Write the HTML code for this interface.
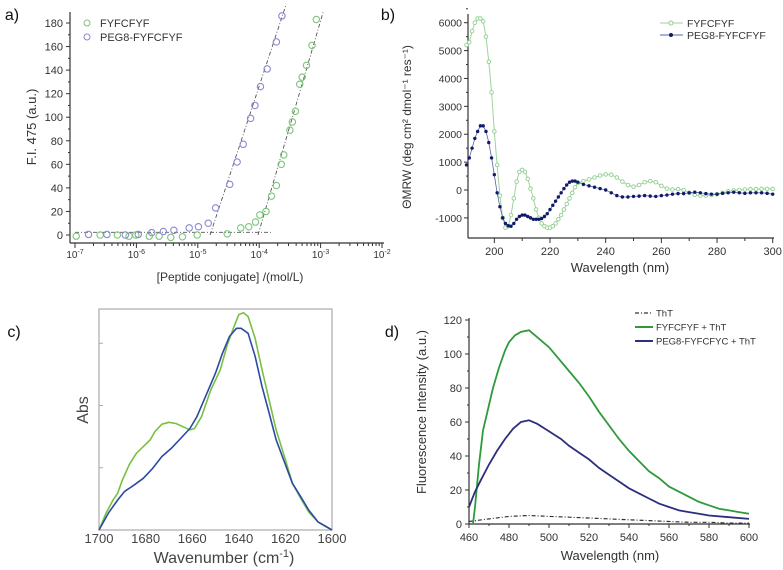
<!DOCTYPE html>
<html><head><meta charset="utf-8"><style>
html,body{margin:0;padding:0;background:#fff;}
svg{display:block;font-family:"Liberation Sans",Arial,sans-serif;}
</style></head><body>
<svg id="fig" width="783" height="570" viewBox="0 0 783 570" xmlns="http://www.w3.org/2000/svg"></svg>
<script>
// ---------- Panel a data ----------
const aGreenLogX=[-6.98,-6.59,-6.31,-6.12,-6.01,-5.79,-5.63,-5.44,-5.25,-5.01,-4.52,-4.30,-4.17,-4.06,-3.99,-3.89,-3.80,-3.72,-3.64,-3.60,-3.50,-3.46,-3.41,-3.34,-3.30,-3.23,-3.14,-3.07];
const aGreenY=[-1,0,0,-1,0,-1,-1,-2,-1.5,0,1,6,7,11,17,20,33,42,60,68,89,96,105,128,134,144,161,183];
const aPurpleLogX=[-6.78,-6.48,-6.18,-5.97,-5.75,-5.56,-5.39,-5.14,-4.99,-4.83,-4.71,-4.48,-4.36,-4.26,-4.14,-4.07,-3.98,-3.87,-3.72,-3.63];
const aPurpleY=[0.5,0.5,0,0.5,2,3,4,6,7,10,23,43,62,77,99,110,126,141,164,186];
const aFitPurple=[[-4.80,0],[-3.56,196]];
const aFitGreen=[[-4.02,0],[-2.96,189]];
const aBaseline=[[-7,2.3],[-3.81,2.3]];
const aYTicks=[0,20,40,60,80,100,120,140,160,180];
const aXDecades=[-7,-6,-5,-4,-3,-2];
// ---------- Panel b data ----------
const bGreenX=[190,191,192,193,194,195,196,197,198,199,200,201,202,203,204,205,206,207,208,209,210,211,212,213,214,215,216,217,218,219,220,221,222,223,224,225,226,227,228,229,230,232,234,236,238,240,242,244,246,248,250,252,254,256,258,260,262,264,266,268,270,272,274,276,278,280,282,284,286,288,290,292,294,296,298,300];
const bGreenY=[5200,5300,5700,6000,6150,6150,6050,5500,4600,3500,2100,900,-200,-1000,-1350,-1300,-900,-300,300,650,720,650,400,50,-300,-700,-1000,-1200,-1300,-1350,-1350,-1300,-1200,-1050,-900,-700,-500,-300,-100,100,250,320,380,450,520,560,550,450,300,180,120,180,280,320,280,150,50,20,30,0,-100,-170,-200,-200,-180,-150,-100,-50,-20,0,20,30,30,40,40,40];
const bBlueX=[190,191,192,193,194,195,196,197,198,199,200,201,202,203,204,205,206,207,208,209,210,211,212,213,214,215,216,217,218,219,220,221,222,223,224,225,226,227,228,229,230,232,234,236,238,240,242,244,246,248,250,252,254,256,258,260,262,264,266,268,270,272,274,276,278,280,282,284,286,288,290,292,294,296,298,300];
const bBlueY=[900,1150,1500,1850,2100,2300,2300,2100,1700,1150,550,-100,-600,-1000,-1200,-1280,-1300,-1200,-1050,-950,-900,-900,-950,-1000,-1050,-1050,-1050,-1020,-950,-850,-700,-550,-400,-250,-100,50,180,280,320,320,280,200,150,100,50,0,-100,-200,-250,-250,-230,-220,-200,-220,-230,-200,-180,-150,-130,-130,-100,-80,-100,-130,-150,-150,-120,-100,-80,-100,-120,-100,-100,-100,-120,-150];
const bYTicks=[-1000,0,1000,2000,3000,4000,5000,6000];
const bXTicks=[200,220,240,260,280,300];
// ---------- Panel c data ----------
const cGreenX=[1700,1697,1694,1692,1690,1687,1684,1681,1678,1676,1673,1670,1667,1664,1661,1659,1656,1652,1648,1645,1642,1640,1638,1636,1633,1630,1627,1624,1620,1617,1613,1610,1606,1600];
const cGreenY=[0,0.27,0.48,0.59,0.80,1.05,1.23,1.34,1.45,1.58,1.70,1.73,1.71,1.66,1.61,1.63,1.82,2.25,2.57,2.97,3.27,3.46,3.49,3.43,3.08,2.57,2.09,1.61,1.13,0.75,0.48,0.29,0.13,0];
const cBlueX=[1700,1696,1692,1689,1685,1681,1677,1673,1669,1665,1661,1658,1654,1650,1647,1644,1641,1639,1636,1633,1630,1627,1624,1620,1617,1613,1610,1606,1600];
const cBlueY=[0,0.27,0.48,0.62,0.72,0.83,0.99,1.18,1.31,1.47,1.63,1.82,2.17,2.52,2.84,3.11,3.24,3.24,3.16,2.79,2.30,1.88,1.45,1.05,0.75,0.51,0.32,0.13,0];
const cXTicks=[1700,1680,1660,1640,1620,1600];
const cYTicks=[1,2,3];
// ---------- Panel d data ----------
const dGreenX=[462,463,465,467,470,472,475,478,480,483,486,490,493,496,500,505,510,515,520,525,530,535,540,545,550,555,560,565,570,575,580,585,590,595,600];
const dGreenY=[0,10,35,55,70,80,92,102,107,111,113,114,111,108,104,97,90,83,75,66,58,50,43,37,31,27,22,19,16,13,11,9,8,7,6];
const dBlueX=[460,463,466,470,474,478,482,486,490,494,498,502,506,510,515,520,525,530,535,540,545,550,555,560,565,570,575,580,590,600];
const dBlueY=[10,19,26,35,43,50,56,60,61,59,56,53,50,46,42,38,33,29,25,21,18,15,12,10,8,7,6,5,4,3];
const dThtX=[460,470,480,490,500,510,520,530,540,550,560,570,580,590,600];
const dThtY=[1.5,3,4.5,5,4.5,4,3.5,3,2.5,2,1.5,1,1,0.5,0.5];
const dXTicks=[460,480,500,520,540,560,580,600];
const dYTicks=[0,20,40,60,80,100,120];

const NS="http://www.w3.org/2000/svg";
const svg=document.getElementById('fig');
function mk(tag,attrs,parent,txt){const e=document.createElementNS(NS,tag);for(const k in attrs)e.setAttribute(k,attrs[k]);if(txt!==undefined)e.textContent=txt;(parent||svg).appendChild(e);return e;}
function grp(name){const g=mk('g',{});


return g;}
function lin(d0,d1,r0,r1){return v=>r0+(v-d0)*(r1-r0)/(d1-d0);}
function pathD(xs,ys,sx,sy){return xs.map((x,i)=>(i?'L':'M')+sx(x).toFixed(1)+','+sy(ys[i]).toFixed(1)).join('');}
function label(g,x,y,t,size,anchor,name,extra){const e=mk('text',Object.assign({x:x,y:y,'font-size':size,'text-anchor':anchor||'middle',fill:'#333'},extra||{}),g,t);


return e;}

// ===== Panel a =====
(function(){
const g=grp('panel-a');
const sx=lin(-7,-2,75,382), sy=lin(0,180,235,23);
label(g,12,20,'a)',16,'middle','panel-a-label',{fill:'#111'});
mk('line',{x1:70,y1:12,x2:70,y2:243,stroke:'#333','stroke-width':1.2},g);
mk('line',{x1:70,y1:243,x2:384,y2:243,stroke:'#333','stroke-width':1.2},g);
aYTicks.forEach(v=>{mk('line',{x1:66,x2:70,y1:sy(v),y2:sy(v),stroke:'#333'},g);
const t=label(g,63,sy(v)+4,String(v),11,'end','y-tick-label-a');});
aYTicks.forEach(v=>{if(v<180)mk('line',{x1:68,x2:70,y1:sy(v+10),y2:sy(v+10),stroke:'#333'},g);});
aXDecades.forEach(d=>{mk('line',{x1:sx(d),x2:sx(d),y1:243,y2:248,stroke:'#333'},g);
const t=label(g,sx(d),258,'10',10,'middle','x-tick-label-a');
const s=mk('tspan',{dy:-4,'font-size':7},t,String(d));
if(d<-2)for(let k=2;k<10;k++){const x=sx(d+Math.log10(k));mk('line',{x1:x,x2:x,y1:243,y2:246,stroke:'#333'},g);}});
label(g,230,281,'[Peptide conjugate] /(mol/L)',12,'middle','x-axis-title-a');
label(g,0,0,'F.I. 475 (a.u.)',13,'middle','y-axis-title-a',{transform:'translate(36,127) rotate(-90)'});
const dot={stroke:'#555','stroke-width':0.9,'stroke-dasharray':'4,2,1,2',fill:'none'};
[aFitPurple,aFitGreen,aBaseline].forEach((L,i)=>{const l=mk('line',Object.assign({x1:sx(L[0][0]),y1:sy(L[0][1]),x2:sx(L[1][0]),y2:sy(L[1][1])},dot),g);

});
aGreenLogX.forEach((x,i)=>{const c=mk('circle',{cx:sx(x),cy:sy(aGreenY[i]),r:3.2,fill:'none',stroke:'#7cc47c','stroke-width':1.1},g);

});
aPurpleLogX.forEach((x,i)=>{const c=mk('circle',{cx:sx(x),cy:sy(aPurpleY[i]),r:3.2,fill:'none',stroke:'#8a8ad0','stroke-width':1.1},g);

});
mk('circle',{cx:87,cy:23,r:3,fill:'none',stroke:'#7cc47c'},g);
mk('circle',{cx:87,cy:37,r:3,fill:'none',stroke:'#8a8ad0'},g);
label(g,100,27,'FYFCFYF',11,'start','legend-entry-fyfcfyf');
label(g,100,41,'PEG8-FYFCFYF',11,'start','legend-entry-peg8');
})();

// ===== Panel b =====
(function(){
const g=grp('panel-b');
const sx=lin(190,300,466.5,772.7), sy=lin(0,6000,190,22.7);
label(g,388,20,'b)',16,'middle','panel-b-label',{fill:'#111'});
mk('line',{x1:468,y1:14,x2:468,y2:238,stroke:'#333','stroke-width':1.2},g);
mk('line',{x1:468,y1:238,x2:774,y2:238,stroke:'#333','stroke-width':1.2},g);
bYTicks.forEach(v=>{mk('line',{x1:464,x2:468,y1:sy(v),y2:sy(v),stroke:'#333'},g);
label(g,462,sy(v)+4,String(v),10.5,'end','y-tick-label-b');
mk('line',{x1:466,x2:468,y1:sy(v+500),y2:sy(v+500),stroke:'#333'},g);});
bXTicks.forEach(v=>{mk('line',{x1:sx(v),x2:sx(v),y1:238,y2:243,stroke:'#333'},g);
label(g,sx(v),255,String(v),11,'middle','x-tick-label-b');
if(v<300)mk('line',{x1:sx(v+10),x2:sx(v+10),y1:238,y2:241,stroke:'#333'},g);});
label(g,620,272,'Wavelength (nm)',13,'middle','x-axis-title-b');
label(g,0,0,'ΘMRW (deg cm² dmol⁻¹ res⁻¹)',12,'middle','y-axis-title-b',{transform:'translate(411,127) rotate(-90)'});
const gl=mk('path',{d:pathD(bGreenX,bGreenY,sx,sy),fill:'none',stroke:'#9ed39e','stroke-width':1},g);


bGreenX.forEach((x,i)=>{mk('circle',{cx:sx(x),cy:sy(bGreenY[i]),r:1.8,fill:'#fff',stroke:'#8fcf8f','stroke-width':0.9},g);});
const bl=mk('path',{d:pathD(bBlueX,bBlueY,sx,sy),fill:'none',stroke:'#5a60a8','stroke-width':0.8},g);


bBlueX.forEach((x,i)=>{mk('circle',{cx:sx(x),cy:sy(bBlueY[i]),r:1.7,fill:'#101a6a'},g);});
mk('line',{x1:660,x2:683,y1:23,y2:23,stroke:'#9ed39e'},g);
mk('circle',{cx:671,cy:23,r:2,fill:'#fff',stroke:'#8fcf8f'},g);
mk('line',{x1:660,x2:683,y1:35,y2:35,stroke:'#5a60a8'},g);
mk('circle',{cx:671,cy:35,r:2,fill:'#101a6a'},g);
label(g,687,27,'FYFCFYF',10.5,'start','legend-entry-fyfcfyf-b');
label(g,687,39,'PEG8-FYFCFYF',10.5,'start','legend-entry-peg8-b');
})();

// ===== Panel c =====
(function(){
const g=grp('panel-c');
const sx=lin(1700,1600,99,332), sy=lin(0,3.55,530,309);
label(g,14,337,'c)',16,'middle','panel-c-label',{fill:'#111'});
mk('rect',{x:99,y:309,width:233,height:221,fill:'none',stroke:'#aaa','stroke-width':1.2},g);
cYTicks.forEach(v=>{mk('line',{x1:99,x2:103,y1:sy(v),y2:sy(v),stroke:'#aaa'},g);});
cXTicks.forEach(v=>{label(g,sx(v),543,String(v),13,'middle','x-tick-label-c',{fill:'#444'});});
const t=label(g,224,563,'Wavenumber (cm',16,'middle','x-axis-title-c',{fill:'#444'});
mk('tspan',{dy:-6,'font-size':11},t,'-1');
mk('tspan',{dy:6},t,')');
label(g,0,0,'Abs',16,'middle','y-axis-title-c',{transform:'translate(88,410) rotate(-90)',fill:'#444'});
const gl=mk('path',{d:pathD(cGreenX,cGreenY,sx,sy),fill:'none',stroke:'#78c044','stroke-width':1.6,'stroke-linejoin':'round'},g);


const bl=mk('path',{d:pathD(cBlueX,cBlueY,sx,sy),fill:'none',stroke:'#2c4aa4','stroke-width':1.6,'stroke-linejoin':'round'},g);


})();

// ===== Panel d =====
(function(){
const g=grp('panel-d');
const sx=lin(460,600,469,749), sy=lin(0,120,524,320);
label(g,392,337,'d)',16,'middle','panel-d-label',{fill:'#111'});
mk('line',{x1:469,y1:318,x2:469,y2:524,stroke:'#333','stroke-width':1.2},g);
mk('line',{x1:469,y1:524,x2:750,y2:524,stroke:'#333','stroke-width':1.2},g);
dYTicks.forEach(v=>{mk('line',{x1:465,x2:469,y1:sy(v),y2:sy(v),stroke:'#333'},g);
label(g,462,sy(v)+4,String(v),11,'end','y-tick-label-d');
if(v<120)mk('line',{x1:467,x2:469,y1:sy(v+10),y2:sy(v+10),stroke:'#333'},g);});
dXTicks.forEach(v=>{mk('line',{x1:sx(v),x2:sx(v),y1:524,y2:528,stroke:'#333'},g);
label(g,sx(v),541,String(v),11,'middle','x-tick-label-d');
if(v<600)mk('line',{x1:sx(v+10),x2:sx(v+10),y1:524,y2:526,stroke:'#333'},g);});
label(g,610,560,'Wavelength (nm)',13,'middle','x-axis-title-d');
label(g,0,0,'Fluorescence Intensity (a.u.)',13,'middle','y-axis-title-d',{transform:'translate(426,412) rotate(-90)'});
const tl=mk('path',{d:pathD(dThtX,dThtY,sx,sy),fill:'none',stroke:'#333','stroke-width':1.2,'stroke-dasharray':'4,2,1,2'},g);


const gl=mk('path',{d:pathD(dGreenX,dGreenY,sx,sy),fill:'none',stroke:'#2e9a3c','stroke-width':1.8},g);


const bl=mk('path',{d:pathD(dBlueX,dBlueY,sx,sy),fill:'none',stroke:'#2b2f7c','stroke-width':1.8},g);


mk('line',{x1:635,x2:653,y1:313,y2:313,stroke:'#333','stroke-width':1.2,'stroke-dasharray':'4,2,1,2'},g);
mk('line',{x1:635,x2:653,y1:327,y2:327,stroke:'#2e9a3c','stroke-width':2},g);
mk('line',{x1:635,x2:653,y1:341,y2:341,stroke:'#2b2f7c','stroke-width':2},g);
label(g,656,316.5,'ThT',9.5,'start','legend-entry-tht');
label(g,656,330.5,'FYFCFYF + ThT',9.5,'start','legend-entry-fyfcfyf-tht');
label(g,656,344.5,'PEG8-FYFCFYC + ThT',9.5,'start','legend-entry-peg8-tht');
})();
</script>
</body></html>
